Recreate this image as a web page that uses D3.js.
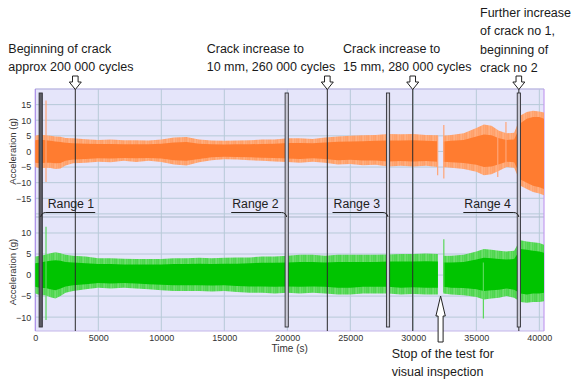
<!DOCTYPE html>
<html>
<head>
<meta charset="utf-8">
<script src="https://cdn.jsdelivr.net/npm/d3@7"></script>
<style>
  html, body { margin: 0; padding: 0; background: #fff; }
  svg { display: block; font-family: "Liberation Sans", Arial, sans-serif; }
</style>
</head>
<body>
<svg id="chart" width="571" height="382"></svg>
<script>
// Sample times (s) of the vibration envelope; the test was stopped between 31950 and 32380 s
const times = [0, 400, 800, 1200, 1600, 2000, 2400, 3000, 4000, 5000, 6000, 7000, 8000, 9000, 10000,
  11000, 12000, 13000, 14000, 15000, 16000, 17000, 18000, 19000, 20000, 21000, 22000, 23000, 24000,
  25000, 26000, 27000, 28000, 29000, 30000, 31000, 31950, 32380, 33000, 34000, 35000, 35600, 36200,
  36800, 37400, 38000, 38300, 38500, 39000, 39500, 40000, 40370];

// Upper sensor (orange): outer peak envelope and dense core, in g
const topPeakHi = [5.0, 5.4, 5.2, 5.0, 4.8, 4.7, 4.3, 4.2, 3.9, 3.7, 3.8, 3.6, 3.6, 3.5, 3.8,
  4.5, 4.6, 3.8, 3.5, 3.4, 3.5, 3.6, 3.8, 3.8, 4.2, 4.2, 4.0, 4.5, 4.8,
  5.0, 5.2, 5.3, 5.6, 5.5, 5.6, 5.3, 5.2, 5.0, 5.3, 5.8, 7.5, 8.6, 8.2,
  6.6, 5.8, 6.0, 9.0, 11.5, 12.6, 13.0, 12.8, 12.5];
const topPeakLo = [-5.0, -5.5, -5.2, -5.3, -5.6, -5.5, -4.5, -3.8, -3.6, -3.3, -3.5, -3.0, -3.4, -3.0, -3.4,
  -4.2, -4.5, -3.5, -2.8, -2.5, -2.6, -2.8, -3.0, -3.2, -3.4, -3.6, -3.3, -3.6, -4.2,
  -4.0, -4.4, -4.3, -4.8, -4.6, -4.8, -4.6, -5.0, -5.0, -5.2, -5.6, -6.5, -7.6, -7.3,
  -6.2, -5.0, -5.2, -8.0, -11.0, -12.0, -13.0, -13.5, -14.0];
const topCoreHi = [3.6, 3.8, 3.6, 3.4, 3.2, 3.0, 2.8, 2.6, 2.5, 2.4, 2.4, 2.3, 2.3, 2.3, 2.5,
  2.9, 3.0, 2.5, 2.3, 2.2, 2.3, 2.3, 2.4, 2.5, 2.7, 2.7, 2.6, 2.9, 3.1,
  3.2, 3.3, 3.4, 3.5, 3.5, 3.6, 3.4, 3.3, 3.2, 3.4, 3.7, 4.8, 5.4, 5.2,
  4.2, 3.7, 3.8, 6.5, 9.0, 10.5, 11.0, 11.0, 10.5];
const topCoreLo = [-3.6, -3.8, -3.6, -3.6, -3.8, -3.7, -3.0, -2.6, -2.4, -2.2, -2.3, -2.1, -2.2, -2.1, -2.3,
  -2.8, -3.0, -2.4, -1.9, -1.7, -1.8, -1.9, -2.0, -2.1, -2.3, -2.4, -2.2, -2.4, -2.8,
  -2.7, -2.9, -2.9, -3.2, -3.1, -3.2, -3.1, -3.3, -3.3, -3.5, -3.7, -4.3, -5.0, -4.8,
  -4.1, -3.3, -3.5, -6.0, -9.0, -10.0, -11.0, -11.5, -12.0];

// Lower sensor (green): outer peak envelope and dense core, in g
const botPeakHi = [4.4, 4.6, 4.8, 5.2, 5.4, 5.2, 4.8, 4.6, 4.4, 4.0, 4.0, 3.9, 3.8, 3.8, 3.8,
  4.0, 4.0, 4.1, 4.0, 4.1, 4.2, 4.2, 4.4, 4.4, 4.6, 4.8, 4.8, 4.6, 4.8,
  4.8, 4.8, 4.8, 4.9, 5.0, 5.0, 5.1, 5.0, 4.6, 4.6, 4.8, 5.6, 6.2, 6.0,
  5.8, 5.6, 5.8, 7.4, 8.3, 8.0, 7.8, 7.6, 7.2];
const botPeakLo = [-4.4, -4.8, -4.8, -5.3, -5.6, -5.0, -4.2, -3.8, -3.4, -3.0, -3.2, -3.0, -3.2, -3.4, -3.6,
  -3.8, -3.8, -3.8, -3.9, -3.8, -4.0, -4.2, -4.2, -4.4, -4.2, -4.4, -4.2, -4.4, -4.6,
  -4.6, -4.4, -4.4, -4.4, -4.6, -4.5, -4.6, -4.6, -4.4, -4.6, -4.8, -5.2, -5.8, -5.6,
  -5.4, -5.0, -5.4, -6.0, -6.4, -6.6, -6.4, -6.4, -6.2];
const botCoreHi = [2.8, 3.0, 3.2, 3.4, 3.5, 3.4, 3.1, 3.0, 2.8, 2.6, 2.6, 2.5, 2.5, 2.5, 2.5,
  2.6, 2.6, 2.7, 2.6, 2.7, 2.7, 2.8, 2.9, 2.9, 3.0, 3.1, 3.1, 3.0, 3.1,
  3.1, 3.1, 3.1, 3.2, 3.2, 3.2, 3.3, 3.2, 3.0, 3.0, 3.1, 3.7, 4.1, 4.0,
  3.8, 3.7, 3.8, 5.2, 6.2, 6.0, 5.8, 5.6, 5.3];
const botCoreLo = [-2.8, -3.1, -3.1, -3.4, -3.6, -3.2, -2.7, -2.4, -2.2, -1.9, -2.0, -1.9, -2.0, -2.2, -2.3,
  -2.4, -2.4, -2.4, -2.5, -2.4, -2.6, -2.7, -2.7, -2.8, -2.7, -2.8, -2.7, -2.8, -3.0,
  -3.0, -2.8, -2.8, -2.8, -3.0, -2.9, -3.0, -3.0, -2.8, -3.0, -3.1, -3.4, -3.8, -3.6,
  -3.5, -3.2, -3.5, -4.0, -4.4, -4.6, -4.4, -4.4, -4.2];

// Isolated transient peaks: time (s), min (g), max (g)
const topSpikeT = [850, 31930, 32420, 36700, 37350];
const topSpikeLo = [-9.8, -7.6, -8.7, -8.2, -5.0];
const topSpikeHi = [16.3, 5.0, 8.5, 5.0, 9.4];
const botSpikeT = [850, 32420, 35560];
const botSpikeLo = [-10.7, -4.0, -10.3];
const botSpikeHi = [11.5, 8.5, 3.0];

// Measurement stop
const stopStart = 31950, stopEnd = 32380;

// Range boundaries and crack events (s)
const rangeT = [430, 19952, 27992, 38373];
const rangeNames = ["Range 1", "Range 2", "Range 3", "Range 4"];
const crackT = [3175, 23175, 29952, 38373];
const crackNotes = [
  ["Beginning of crack", "approx 200 000 cycles"],
  ["Crack increase to", "10 mm, 260 000 cycles"],
  ["Crack increase to", "15 mm, 280 000 cycles"],
  ["Further increase", "of crack no 1,", "beginning of", "crack no 2"]
];
const stopNote = ["Stop of the test for", "visual inspection"];

const xTicks = [0, 5000, 10000, 15000, 20000, 25000, 30000, 35000, 40000];
const topTicks = [-15, -10, -5, 0, 5, 10, 15];
const botTicks = [-10, -5, 0, 5, 10];

// ---- layout ----
const svg = d3.select("#chart");
const L = 35.3, R = 544, T = 89, MID = 217, B = 331;

const x = d3.scaleLinear().domain([0, 40370]).range([L, R]);
const yTop = d3.scaleLinear().domain([-21, 20]).range([MID, T]);
const yBot = d3.scaleLinear().domain([-13.3, 13.8]).range([B, MID]);

// striped fills that give the envelope fringe its dense-trace look
const defs = svg.append("defs");
function stripes(id, base, line) {
  const p = defs.append("pattern").attr("id", id).attr("patternUnits", "userSpaceOnUse")
    .attr("width", 7).attr("height", 4);
  p.append("rect").attr("width", 7).attr("height", 4).attr("fill", base);
  [[0.5, 0.9], [2.2, 0.6], [3.6, 1.0], [5.5, 0.7]].forEach(([px, op]) => {
    p.append("rect").attr("x", px).attr("width", 0.9).attr("height", 4)
      .attr("fill", line).attr("fill-opacity", op);
  });
}
stripes("fringeOrange", "#ffc3a0", "#ff7c30");
stripes("fringeGreen", "#9be89b", "#00c400");

// plot background
svg.append("rect").attr("x", L).attr("y", T).attr("width", R - L).attr("height", B - T)
  .attr("fill", "#e5e5fa");

// grid
const grid = svg.append("g").attr("stroke", "#b7cad8").attr("stroke-width", 1);
xTicks.filter(d => d > 0).forEach(d => {
  grid.append("line").attr("x1", x(d)).attr("x2", x(d)).attr("y1", T).attr("y2", B);
});
d3.range(-20, 21, 5).forEach(d => {
  grid.append("line").attr("x1", L).attr("x2", R).attr("y1", yTop(d)).attr("y2", yTop(d));
});
d3.range(-10, 11, 5).forEach(d => {
  grid.append("line").attr("x1", L).attr("x2", R).attr("y1", yBot(d)).attr("y2", yBot(d));
});
grid.append("line").attr("x1", L).attr("x2", R).attr("y1", MID).attr("y2", MID).attr("stroke", "#a9b9c9");
grid.append("line").attr("x1", L).attr("x2", R).attr("y1", B).attr("y2", B).attr("stroke", "#c4b6ea");
grid.append("line").attr("x1", L).attr("x2", R).attr("y1", T).attr("y2", T).attr("stroke", "#c4b6ea");
svg.append("line").attr("x1", L).attr("x2", L).attr("y1", T).attr("y2", B).attr("stroke", "#a88ae6").attr("stroke-width", 1.2);
svg.append("line").attr("x1", R).attr("x2", R).attr("y1", T).attr("y2", B).attr("stroke", "#c49cf0").attr("stroke-width", 1.2);

// ---- signal bands ----
const segments = [[0, stopStart], [stopEnd, 40370]];
function band(y, hi, lo, fill, opacity) {
  const pts = times.map((t, i) => ({ t, hi: hi[i], lo: lo[i] }));
  const area = d3.area().x(d => x(d.t)).y0(d => y(d.lo)).y1(d => y(d.hi));
  segments.forEach(([a, b]) => {
    svg.append("path")
      .datum(pts.filter(d => d.t >= a && d.t <= b))
      .attr("d", area)
      .attr("fill", fill)
      .attr("fill-opacity", opacity);
  });
}
function spikes(y, ts, lo, hi, color) {
  svg.append("g").selectAll("line").data(ts).join("line")
    .attr("x1", d => x(d)).attr("x2", d => x(d))
    .attr("y1", (d, i) => y(lo[i])).attr("y2", (d, i) => y(hi[i]))
    .attr("stroke", color).attr("stroke-width", 1.2);
}

band(yTop, topPeakHi, topPeakLo, "url(#fringeOrange)", 1);
band(yTop, topCoreHi, topCoreLo, "#ff7c30", 1);
spikes(yTop, topSpikeT, topSpikeLo, topSpikeHi, "#ffa577");

band(yBot, botPeakHi, botPeakLo, "url(#fringeGreen)", 1);
band(yBot, botCoreHi, botCoreLo, "#00c400", 1);
spikes(yBot, botSpikeT, botSpikeLo, botSpikeHi, "#5ad85a");

// ---- axes ----
const tickFont = g => g.selectAll("text").attr("font-size", 9).attr("fill", "#333")
  .attr("font-family", "'Liberation Sans', Arial, sans-serif");

svg.append("g").attr("transform", `translate(${L},0)`)
  .call(d3.axisLeft(yTop).tickValues(topTicks).tickSize(0).tickPadding(4))
  .call(g => g.select(".domain").remove()).call(tickFont);
svg.append("g").attr("transform", `translate(${L},0)`)
  .call(d3.axisLeft(yBot).tickValues(botTicks).tickSize(0).tickPadding(4))
  .call(g => g.select(".domain").remove()).call(tickFont);
svg.append("g").attr("transform", `translate(0,${B})`)
  .call(d3.axisBottom(x).tickValues(xTicks).tickFormat(d3.format("d")).tickSize(0).tickPadding(4))
  .call(g => g.select(".domain").remove()).call(tickFont);

svg.append("text").attr("x", (L + R) / 2).attr("y", 352).attr("text-anchor", "middle")
  .attr("font-size", 10).attr("fill", "#333").text("Time (s)");
[[yTop(0), "Acceleration (g)"], [yBot(0) - 3, "Acceleration (g)"]].forEach(([cy, s]) => {
  svg.append("text").attr("transform", `translate(16,${cy}) rotate(-90)`)
    .attr("text-anchor", "middle").attr("font-size", 9.5).attr("fill", "#333").text(s);
});

// ---- crack event lines ----
svg.append("g").selectAll("line").data(crackT).join("line")
  .attr("x1", d => x(d)).attr("x2", d => x(d)).attr("y1", T).attr("y2", B)
  .attr("stroke", "#2a2a2a").attr("stroke-width", 1);

// ---- range markers ----
svg.append("g").selectAll("rect").data(rangeT).join("rect")
  .attr("x", d => x(d) - 1.6).attr("width", 3.2).attr("y", 93).attr("height", 234)
  .attr("fill", (d, i) => i === 0 ? "#5e5e66" : "#c9c9d6")
  .attr("stroke", "#303036").attr("stroke-width", 0.9);

// range labels with hooked leader lines
const ulY = 212.5, hookY = 217;
rangeT.forEach((t, i) => {
  const mx = x(t);
  const lbl = svg.append("text").attr("y", 208).attr("font-size", 12.3).attr("fill", "#222").text(rangeNames[i]);
  let path;
  if (i === 0) {
    lbl.attr("x", mx + 7);
    const w = lbl.node().getComputedTextLength();
    path = `M${mx},${hookY} Q${mx + 1},${ulY} ${mx + 5},${ulY} L${mx + 8 + w},${ulY}`;
  } else {
    lbl.attr("x", mx - 8).attr("text-anchor", "end");
    const w = lbl.node().getComputedTextLength();
    path = `M${mx - 9 - w},${ulY} L${mx - 5},${ulY} Q${mx - 1},${ulY} ${mx},${hookY}`;
  }
  svg.append("path").attr("d", path).attr("fill", "none").attr("stroke", "#222").attr("stroke-width", 1);
});

// ---- crack annotations with hollow down arrows ----
const noteX = [8.3, 206.7, 343, 480];
const noteBase = [52.5, 52.5, 52.5, 16.5];
crackNotes.forEach((lines, i) => {
  lines.forEach((s, j) => {
    svg.append("text").attr("x", noteX[i]).attr("y", noteBase[i] + j * 18.5)
      .attr("font-size", 12.5).attr("fill", "#1a1a1a").text(s);
  });
});
function downArrow(cx) {
  return `M${cx - 2.8},76 L${cx + 2.8},76 L${cx + 2.8},82 L${cx + 6},82 L${cx},89.5 L${cx - 6},82 L${cx - 2.8},82 Z`;
}
svg.append("g").selectAll("path").data(crackT).join("path")
  .attr("d", d => downArrow(x(d)))
  .attr("fill", "#fff").attr("stroke", "#222").attr("stroke-width", 1);

// ---- stop annotation with hollow up arrow ----
const sx = x((stopStart + stopEnd) / 2);
svg.append("path")
  .attr("d", `M${sx},296 L${sx + 4.7},316 L${sx + 2.5},316 L${sx + 2.5},342 L${sx - 2.5},342 L${sx - 2.5},316 L${sx - 4.7},316 Z`)
  .attr("fill", "#fff").attr("stroke", "#222").attr("stroke-width", 1);
stopNote.forEach((s, j) => {
  svg.append("text").attr("x", 391.7).attr("y", 358 + j * 17.5)
    .attr("font-size", 12.5).attr("fill", "#1a1a1a").text(s);
});
</script>
</body>
</html>
